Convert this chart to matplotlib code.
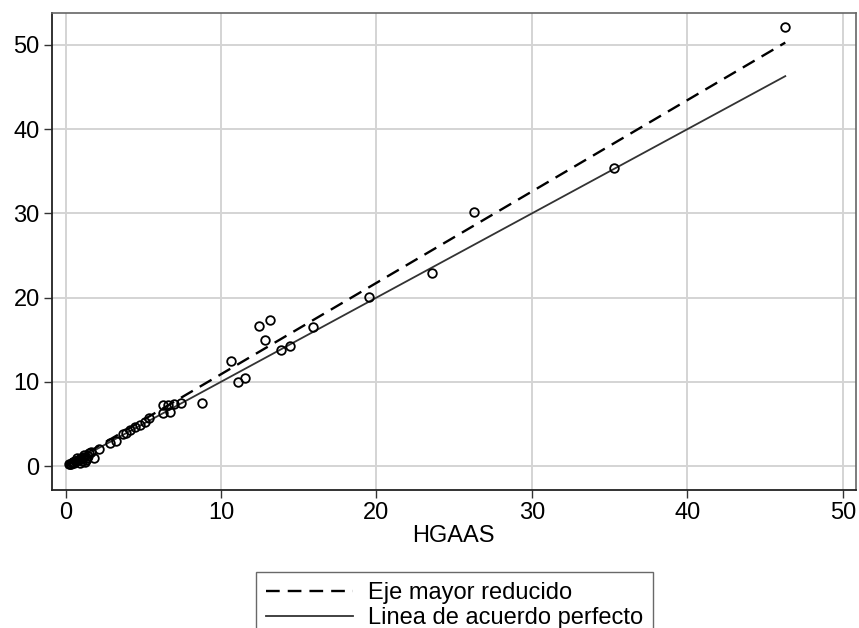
import numpy as np
import matplotlib
matplotlib.use("Agg")
import matplotlib.pyplot as plt

plt.rcParams['font.family'] = ['Liberation Sans', 'DejaVu Sans']

# datos (HGAAS en x, otro metodo en y)
hgaas = [46.3, 35.3, 26.3, 23.55, 19.5, 15.93, 14.43, 13.83, 13.18, 12.82,
         12.45, 11.53, 11.1, 10.67, 8.78, 7.46, 6.98, 6.6, 6.27, 6.7,
         6.27, 5.35, 5.1, 4.77, 4.45, 4.13, 3.9, 3.7, 3.27, 2.89,
         2.16, 1.8, 1.66, 1.5, 1.45, 1.35, 1.3, 1.24, 1.2, 1.1,
         1.0, 0.9, 0.95, 0.8, 0.7, 0.6, 0.55, 0.5, 0.45, 0.4,
         0.35, 0.3, 0.75, 1.05, 0.2]
metodo = [52.1, 35.4, 30.2, 22.9, 20.1, 16.5, 14.3, 13.8, 17.4, 15.0,
          16.6, 10.4, 10.0, 12.5, 7.5, 7.45, 7.36, 7.3, 7.2, 6.4,
          6.26, 5.7, 5.2, 4.85, 4.6, 4.25, 3.9, 3.75, 3.0, 2.77,
          1.98, 0.9, 1.7, 1.5, 1.2, 1.0, 0.7, 0.45, 1.3, 1.1,
          0.95, 0.8, 0.4, 0.75, 0.65, 0.55, 0.35, 0.5, 0.42, 0.35,
          0.3, 0.25, 1.0, 0.6, 0.3]

# eje mayor reducido
rma_intercept = 0.05
rma_slope = 1.085

ticks = [0, 10, 20, 30, 40, 50]
etiquetas = ["Eje mayor reducido", "Linea de acuerdo perfecto"]

x = np.array(hgaas)
y = np.array(metodo)
xl = np.array([x.min(), x.max()])

fig = plt.figure(figsize=(8.59, 6.28), dpi=100)
ax = fig.add_axes([0.060, 0.2197, 0.9365, 0.7596])

ax.plot(x, y, 'o', mfc='none', mec='black', ms=6.2, mew=1.3, zorder=3)
l1, = ax.plot(xl, rma_intercept + rma_slope * xl, color='black', lw=1.7,
              dashes=(5.8, 3.4), zorder=2)
l2, = ax.plot(xl, xl, color='#333333', lw=1.3, zorder=2)

ax.set_xlim(-0.9, 50.85)
ax.set_ylim(-2.85, 53.8)
ax.set_xticks(ticks)
ax.set_yticks(ticks)
ax.grid(True, color='#d4d4d4', lw=1.4)
ax.set_axisbelow(True)
ax.tick_params(labelsize=17, length=6, width=1, color='#333333', pad=2.5)
ax.set_xlabel("HGAAS", fontsize=17, labelpad=1)

for s in ['top', 'right']:
    ax.spines[s].set_color('#666666')
    ax.spines[s].set_linewidth(1.2)
for s in ['left', 'bottom']:
    ax.spines[s].set_color('#222222')
    ax.spines[s].set_linewidth(1.3)

leg = fig.legend([l1, l2], etiquetas, loc='upper center',
                 bbox_to_anchor=(0.529, 1 - 572 / 628), fontsize=17,
                 frameon=True, fancybox=False, handlelength=3.7,
                 handletextpad=0.64, labelspacing=0.14, borderpad=0.42,
                 borderaxespad=0)
leg.get_frame().set_edgecolor('#444444')
leg.get_frame().set_linewidth(1.0)

fig.savefig("out.png", dpi=100)
